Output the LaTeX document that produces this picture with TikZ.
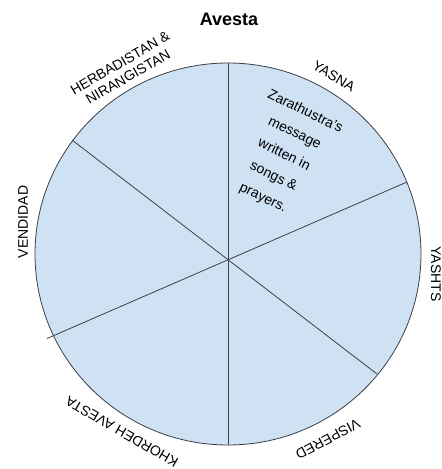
\documentclass[tikz,border=0pt]{standalone}
\usepackage{fontspec}
\setmainfont{Liberation Sans}
\definecolor{slicefill}{HTML}{CFE2F3}
\definecolor{slicestroke}{HTML}{3C3F47}
\begin{document}
\begin{tikzpicture}[x=1pt,y=1pt,
  lbl/.style={font=\fontsize{14}{16}\selectfont, align=center, inner sep=0pt},
  divider/.style={draw=slicestroke, line width=0.8pt}]
\useasboundingbox (0,0) rectangle (442,469);
% circle
\draw[fill=slicefill, draw=slicestroke, line width=0.8pt] (228,215) ellipse [x radius=193, y radius=191];
% points
\coordinate (O) at (227.5,209);
\coordinate (T) at (228,406);
\coordinate (B) at (228,24);
\coordinate (UL) at (72,329);
\coordinate (LR) at (377,95);
\coordinate (LL) at (47,130.5);
\coordinate (UR) at (407,287);
\draw[divider] (T) -- (B);
\draw[divider] (UL) -- (LR);
\draw[divider] (LL) -- (UR);
% title
\node[font=\fontsize{18}{20}\selectfont\bfseries, inner sep=0pt] (title) at (229,450) {Avesta};
% labels
\node[lbl, rotate=-31] (yasna) at (334,393) {YASNA};
\node[lbl, rotate=30] (herb) at (124,399) {HERBADISTAN \&\\NIRANGISTAN};
\node[lbl, rotate=90] (vend) at (23,247) {VENDIDAD};
\node[lbl, rotate=-90] (yasht) at (436,195) {YASHTS};
\node[lbl, rotate=-152] (visp) at (328,30) {VISPERED};
\node[lbl, rotate=150] (khor) at (122,37) {KHORDEH AVESTA};
% inner text
\node[font=\fontsize{14}{24}\selectfont, align=center, inner sep=0pt, rotate=-26] (msg) at (284,314)
  {Zarathustra's\\message\\written in\\songs \&\\prayers.};
\end{tikzpicture}
\end{document}
